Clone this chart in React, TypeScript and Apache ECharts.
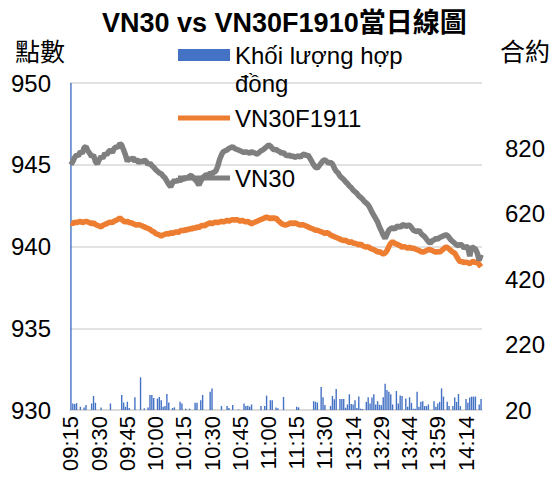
import React, { useEffect, useRef } from "react";
import * as echarts from "echarts";

// Trading sessions (one category per minute)
const sessions: [string, string][] = [
  ["09:15", "11:30"],
  ["13:00", "14:22"],
];

const volumeName = "Khối lượng hợp đồng";
const futName = "VN30F1911";
const idxName = "VN30";

// contracts per minute (right axis)
const volume = [
  1600, 40, 38, 41, 12, 30, 8, 28, 35, 5,
  10, 40, 63, 42, 10, 6, 28, 4, 9, 12,
  3, 40, 10, 7, 5, 11, 8, 66, 43, 30,
  45, 26, 9, 12, 59, 4, 15, 120, 8, 25,
  10, 28, 66, 66, 57, 8, 55, 60, 50, 30,
  32, 69, 43, 12, 26, 28, 10, 6, 45, 40,
  8, 24, 10, 24, 5, 12, 42, 42, 10, 50,
  66, 9, 14, 6, 76, 86, 10, 5, 12, 3,
  32, 8, 10, 32, 26, 12, 35, 6, 11, 22,
  8, 14, 40, 32, 33, 30, 37, 5, 12, 8,
  10, 32, 9, 32, 64, 7, 50, 50, 10, 28,
  25, 6, 9, 60, 4, 10, 6, 3, 8, 12,
  30, 28, 5, 8, 11, 4, 9, 6, 10, 47,
  45, 43, 12, 90, 59, 35, 10, 8, 32, 63,
  53, 84, 12, 54, 54, 54, 27, 37, 68, 38,
  37, 50, 26, 61, 24, 23, 12, 45, 59, 40,
  58, 68, 37, 47, 36, 35, 59, 100, 81, 76,
  68, 37, 14, 78, 40, 64, 63, 10, 55, 30,
  59, 42, 24, 24, 76, 30, 45, 47, 32, 32,
  37, 12, 10, 47, 30, 40, 45, 86, 61, 10,
  45, 32, 8, 32, 58, 45, 69, 32, 10, 6,
  54, 42, 58, 61, 61, 61, 12, 37, 54,
];

// VN30 index (left axis)
const vn30 = [
  945.0, 945.2, 945.45, 945.6, 945.55, 945.8, 945.7, 946.05, 946.1, 945.85,
  945.7, 945.5, 945.6, 945.2, 945.05, 945.3, 945.5, 945.4, 945.7, 945.6,
  945.8, 945.9, 945.75, 946.0, 946.1, 946.05, 946.3, 946.2, 945.9, 945.6,
  945.2, 945.4, 945.3, 945.45, 945.2, 945.35, 945.1, 945.25, 945.15, 945.3,
  945.2, 945.0, 945.1, 944.95, 944.85, 944.7, 944.6, 944.5, 944.45, 944.3,
  944.2, 944.0, 943.8, 943.65, 943.9, 944.05, 943.95, 944.1, 944.0, 944.15,
  944.1, 944.25, 944.15, 944.3, 944.35, 944.2, 944.1, 943.95, 943.75, 944.0,
  944.2, 944.3, 944.4, 944.35, 944.5, 944.45, 944.55, 944.6, 944.9, 945.3,
  945.6, 945.8, 945.85, 945.9, 946.0, 946.05, 946.1, 946.0, 945.95, 945.9,
  945.85, 945.8, 945.75, 945.8, 945.75, 945.7, 945.8, 945.75, 945.7, 945.65,
  945.75, 945.85, 945.9, 946.0, 946.1, 946.2, 946.15, 946.0, 945.9, 945.95,
  945.85, 945.8, 945.7, 945.75, 945.6, 945.55, 945.6, 945.5, 945.55, 945.45,
  945.5, 945.55, 945.45, 945.6, 945.65, 945.55, 945.6, 945.4, 945.2, 945.0,
  944.85, 944.8, 944.95, 945.1, 945.25, 945.3, 945.2, 945.1, 945.15, 945.05,
  944.8, 944.6, 944.5, 944.3, 944.2, 944.1, 943.95, 943.85, 943.7, 943.6,
  943.45, 943.35, 943.25, 943.1, 943.0, 942.9, 942.75, 942.65, 942.55, 942.35,
  942.1, 941.9, 941.7, 941.5, 941.2, 940.95, 940.7, 940.5, 940.75, 941.0,
  941.1, 941.15, 941.05, 941.2, 941.25, 941.15, 941.3, 941.35, 941.2, 941.3,
  941.3, 941.15, 941.0, 940.95, 940.9, 941.0, 940.8, 940.7, 940.6, 940.45,
  940.3, 940.2, 940.35, 940.4, 940.5, 940.45, 940.55, 940.6, 940.65, 940.7,
  940.7, 940.55, 940.4, 940.3, 940.2, 940.1, 940.05, 940.15, 940.05, 939.9,
  940.0, 939.95, 939.4, 940.0, 939.9, 939.85, 939.6, 939.15, 939.5,
];

// VN30F1911 futures (left axis)
const vn30f = [
  941.45, 941.4, 941.5, 941.45, 941.5, 941.55, 941.45, 941.5, 941.55, 941.5,
  941.45, 941.4, 941.45, 941.35, 941.3, 941.25, 941.2, 941.3, 941.35, 941.4,
  941.45, 941.5, 941.45, 941.55, 941.6, 941.65, 941.75, 941.65, 941.55, 941.5,
  941.55, 941.45, 941.45, 941.4, 941.35, 941.3, 941.35, 941.3, 941.25, 941.2,
  941.15, 941.1, 941.05, 940.95, 940.9, 940.8, 940.75, 940.7, 940.65, 940.7,
  940.75, 940.8, 940.75, 940.85, 940.8, 940.85, 940.9, 940.85, 940.95, 941.0,
  940.95, 941.05, 941.0, 941.1, 941.05, 941.15, 941.1, 941.2, 941.15, 941.25,
  941.3, 941.25, 941.35, 941.4, 941.45, 941.4, 941.45, 941.5, 941.45, 941.5,
  941.55, 941.5, 941.55, 941.6, 941.55, 941.6, 941.65, 941.6, 941.65, 941.6,
  941.55, 941.6, 941.55, 941.5, 941.55, 941.45, 941.4, 941.45, 941.5, 941.55,
  941.6, 941.65, 941.7, 941.75, 941.8, 941.75, 941.7, 941.75, 941.7, 941.75,
  941.6, 941.5, 941.4, 941.35, 941.3, 941.35, 941.4, 941.45, 941.4, 941.45,
  941.4, 941.35, 941.3, 941.35, 941.3, 941.25, 941.2, 941.15, 941.1, 941.05,
  941.0, 941.0, 940.95, 940.9, 940.85, 940.8, 940.85, 940.8, 940.7, 940.65,
  940.6, 940.55, 940.5, 940.45, 940.4, 940.35, 940.4, 940.3, 940.25, 940.3,
  940.2, 940.2, 940.15, 940.1, 940.15, 940.05, 940.0, 939.95, 940.0, 939.9,
  939.85, 939.8, 939.75, 939.65, 939.7, 939.6, 939.55, 939.6, 939.75, 940.0,
  940.2, 940.3, 940.2, 940.15, 940.1, 940.05, 939.95, 940.0, 939.95, 939.9,
  939.95, 939.9, 939.9, 939.85, 939.8, 939.75, 939.7, 939.65, 939.7, 939.75,
  939.8, 939.8, 939.75, 939.7, 939.65, 939.7, 939.65, 939.75, 939.85, 939.95,
  939.95, 939.85, 939.75, 939.65, 939.6, 939.4, 939.2, 939.05, 939.1, 939.0,
  939.05, 939.0, 938.95, 939.05, 939.1, 939.0, 939.05, 938.9, 938.75,
];

function toMin(s: string) {
  const [h, m] = s.split(":").map(Number);
  return h * 60 + m;
}
function fmt(m: number) {
  const h = Math.floor(m / 60);
  const mm = m % 60;
  return `${String(h).padStart(2, "0")}:${String(mm).padStart(2, "0")}`;
}
const times: string[] = [];
for (const [a, b] of sessions) {
  for (let m = toMin(a); m <= toMin(b); m++) times.push(fmt(m));
}

const FONT = '"Liberation Sans", Arial, "Noto Sans CJK TC", sans-serif';
const CJK = '"Noto Sans CJK TC", "Liberation Sans", sans-serif';

export default function App() {
  const ref = useRef<HTMLDivElement>(null);
  useEffect(() => {
    if (!ref.current) return;
    const chart = echarts.init(ref.current, undefined, { renderer: "svg" });
    const legendBase = {
      left: 178,
      orient: "vertical",
      padding: 0,
      itemWidth: 52,
      itemHeight: 12,
      icon: "rect",
      textStyle: { fontSize: 24, color: "#000", fontFamily: FONT },
    };
    chart.setOption({
      animation: false,
      backgroundColor: "#fff",
      title: {
        text: "VN30 vs VN30F1910當日線圖",
        left: 97,
        top: 4,
        textStyle: { fontSize: 27, fontWeight: "bold", color: "#000", fontFamily: FONT },
      },
      legend: [
        {
          ...legendBase,
          top: 13,
          data: [volumeName],
          formatter: () => "\nKhối lượng hợp\nđồng",
          textStyle: { ...legendBase.textStyle, lineHeight: 28 },
        },
        { ...legendBase, top: 106, itemHeight: 5, data: [futName] },
        { ...legendBase, top: 166, itemHeight: 5, data: [idxName] },
      ],
      grid: { left: 70, right: 71, top: 83, bottom: 70 },
      xAxis: {
        type: "category",
        data: times,
        boundaryGap: true,
        axisLine: { lineStyle: { color: "#D9D9D9", width: 1.5 } },
        axisTick: { show: false },
        axisLabel: {
          interval: 14,
          rotate: 90,
          fontSize: 22,
          color: "#000",
          margin: 6,
          fontFamily: FONT,
        },
      },
      yAxis: [
        {
          type: "value",
          min: 930,
          max: 950,
          interval: 5,
          name: "點數",
          nameLocation: "end",
          nameGap: 21,
          nameTextStyle: { fontSize: 25, color: "#000", fontFamily: CJK, align: "right", padding: [0, 5, 0, 0] },
          axisLine: { show: false },
          axisTick: { show: false },
          axisLabel: { fontSize: 24, color: "#000", margin: 19, fontFamily: FONT },
          splitLine: { lineStyle: { color: "#D9D9D9", width: 1.5 } },
        },
        {
          type: "value",
          min: 20,
          max: 1020,
          interval: 200,
          name: "合約",
          nameLocation: "end",
          nameGap: 21,
          nameTextStyle: { fontSize: 25, color: "#000", fontFamily: CJK, align: "left", padding: [0, 0, 0, 18] },
          axisLine: { show: false },
          axisTick: { show: false },
          axisLabel: { fontSize: 24, color: "#000", margin: 23, fontFamily: FONT, showMaxLabel: false },
          splitLine: { show: false },
        },
      ],
      series: [
        {
          name: volumeName,
          type: "bar",
          yAxisIndex: 1,
          data: volume,
          barWidth: 1.4,
          clip: true,
          itemStyle: { color: "#4472C4" },
        },
        {
          name: futName,
          type: "line",
          yAxisIndex: 0,
          data: vn30f,
          symbol: "none",
          lineStyle: { color: "#ED7D31", width: 5.5 },
          itemStyle: { color: "#ED7D31" },
        },
        {
          name: idxName,
          type: "line",
          yAxisIndex: 0,
          data: vn30,
          symbol: "none",
          lineStyle: { color: "#7F7F7F", width: 5.5 },
          itemStyle: { color: "#7F7F7F" },
        },
      ],
    });
    return () => chart.dispose();
  }, []);
  return (
    <div
      ref={ref}
      style={{ position: "absolute", left: 0, top: 0, width: 553, height: 480 }}
    />
  );
}
